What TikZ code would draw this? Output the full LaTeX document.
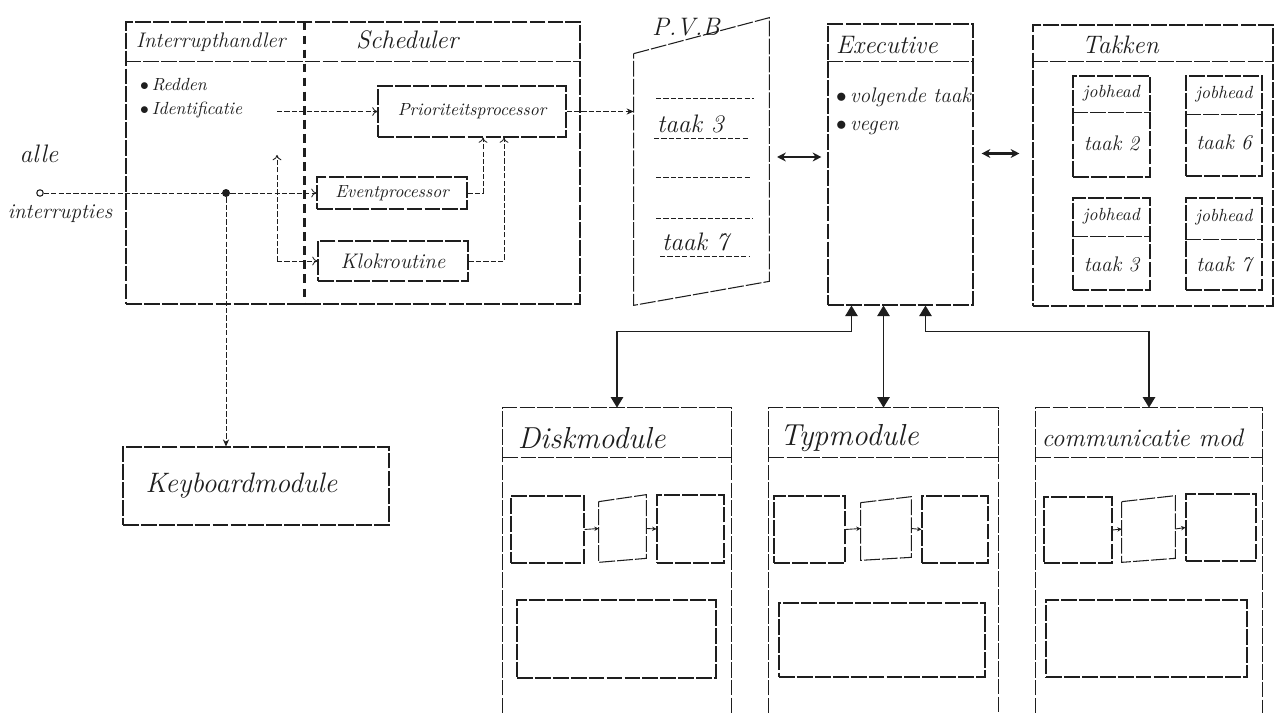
\documentclass[tikz,border=0pt]{standalone}
\usepackage{tikz}
\usetikzlibrary{arrows.meta,positioning,calc,fit}
\definecolor{cInk}{HTML}{1E1E1E}
\definecolor{cPaper}{HTML}{FFFFFF}
\tikzset{
  >=Stealth,
  box/.style  ={draw=cInk,line width=0.6pt,dash pattern=on 9pt off 1.2pt,inner sep=0pt},
  pane/.style ={inner sep=0pt},
  divl/.style ={draw=cInk,line width=1.3pt,dash pattern=on 5pt off 3pt},
  cn/.style   ={draw=cInk,line width=0.5pt,dash pattern=on 3pt off 1.2pt},
  ar/.style   ={cn,-{To[length=3pt,width=5pt]}},
  arf/.style  ={cn,-{Stealth[length=4pt,width=3.5pt]}},
  arb/.style  ={draw=cInk,line width=1.4pt,{Stealth[length=5pt,width=5pt]}-{Stealth[length=5pt,width=5pt]}},
  arg/.style  ={draw=cInk,line width=1pt,{Triangle[length=6pt,width=7pt]}-{Triangle[length=6pt,width=7pt]}},
  sa/.style   ={draw=cInk,line width=0.5pt,-{Stealth[length=2.5pt,width=2.5pt]}},
  dot/.style  ={circle,fill=cInk,inner sep=1.6pt},
  term/.style ={circle,draw=cInk,line width=0.6pt,inner sep=1.3pt},
  sm/.style   ={font=\normalsize\itshape,text=cInk,inner sep=1pt},
  md/.style   ={font=\large\itshape,text=cInk,inner sep=1pt},
  hd/.style   ={font=\large\itshape,text=cInk,inner sep=1pt},
  lg/.style   ={font=\Large\itshape,text=cInk,inner sep=1pt},
  xl/.style   ={font=\LARGE\itshape,text=cInk,inner sep=1pt},
}
\begin{document}
\begin{tikzpicture}[x=0.02cm,y=-0.02cm]
\useasboundingbox[fill=cPaper] (0,0) rectangle (1276,713);

% interrupthandler / scheduler
\node[box,fit={(126,22)(580,304)}] (ih) {};
\draw[box] ($(ih.north west)+(0,40)$) -- ($(ih.north east)+(0,40)$);
\draw[divl] ($(ih.north west)+(179,0)$) -- ($(ih.south west)+(179,0)$);
\node[hd,anchor=west] (ihT) at (134,42) {Interrupthandler};
\node[lg,anchor=west] (schT) at (354,40) {Scheduler};
\node[sm,anchor=west] (red) at (138,85) {$\bullet$\,Redden};
\node[sm,anchor=west] (idf) at (138,110) {$\bullet$\,Identificatie};
\node[box,fit={(378,86)(566,137)}] (prio) {};
\node[sm] (prioT) at (prio) {Prioriteitsprocessor};
\node[box,fit={(317,177)(467,209)}] (event) {};
\node[sm] (eventT) at (event) {Eventprocessor};
\node[box,fit={(318,241)(468,281)}] (klok) {};
\node[md] (klokT) at (klok) {Klokroutine};

% input
\node[term] (inp) at (40,193) {};
\node[lg] (alle) at (39,154) {alle};
\node[md] (intr) at (60,214) {interrupties};
\node[dot] (jd) at (226,193) {};
\coordinate (up) at (277,155);
\draw[cn] (inp) -- (jd);
\draw[ar] (jd) -- (event.west);
\draw[ar] (up |- klok.west) -- (up);
\draw[ar] (up |- klok.west) -- (klok.west);
\draw[ar] (up |- prio.west) -- (prio.west);
\draw[ar] (event.east) -| ($(prio.south)+(11,0)$);
\draw[ar] (klok.east) -| ($(prio.south)+(32,0)$);

% keyboard
\node[box,fit={(123,447)(389,525)}] (kbd) {};
\node[font=\fontsize{16}{19}\selectfont\itshape,text=cInk,anchor=west] (kbdT) at ($(kbd.west)+(17,0)$) {Keyboardmodule};
\draw[arf] (jd) -- (jd |- kbd.north);

% P.V.B
\node[pane,fit={(634,18)(769,305)}] (pvb) {};
\draw[box] ($(pvb.north west)+(0,36)$) -- (pvb.north east) -- ($(pvb.south east)+(0,-24)$) -- (pvb.south west) -- cycle;
\node[lg] (pvbT) at (686,27) {P.V.B};
\draw[cn] (656,98) -- (754,98) (654,138) -- (748,138) (656,177) -- (750,177)
          (656,218) -- (752,218) (660,256) -- (750,256);
\node[lg,anchor=base west] (pvb3) at (655,133) {taak 3};
\node[lg,anchor=base west] (pvb7) at (660,251) {taak 7};
\draw[arf] (prio.east) -- (prio.east -| pvb.west);
\coordinate (pvbR) at (769,157);

% executive
\node[box,fit={(828,24)(973,305)}] (exec) {};
\draw[box] ($(exec.north west)+(0,38)$) -- ($(exec.north east)+(0,38)$);
\node[lg,anchor=west] (execT) at (834,45) {Executive};
\node[md,anchor=west] (volg) at (834,97) {$\bullet$\,volgende taak};
\node[md,anchor=west] (veg) at (834,128) {$\bullet$\,vegen};
\draw[arb,shorten <=0.16cm,shorten >=0.12cm] (pvbR) -- (pvbR -| exec.west);

% taken
\node[box,fit={(1033,25)(1273,306)}] (tak) {};
\draw[box] ($(tak.north west)+(0,37)$) -- ($(tak.north east)+(0,37)$);
\node[lg,anchor=west] (takT) at (1080,45) {Takken};
\draw[arb,shorten <=0.16cm,shorten >=0.26cm] ($(exec.east)+(0,-11)$) -- ($(tak.west)+(0,-12)$);
\node[box,fit={(1073,76)(1150,177)}] (j2) {};
\draw[box] ($(j2.north west)+(0,37)$) -- ($(j2.north east)+(0,37)$);
\node[sm] (j2h) at ($(j2.north)+(0,18)$) {jobhead};
\node[md] (j2t) at ($(j2.north)+(0,68)$) {taak 2};
\node[box,fit={(1186,76)(1262,176)}] (j6) {};
\draw[box] ($(j6.north west)+(0,39)$) -- ($(j6.north east)+(0,39)$);
\node[sm] (j6h) at ($(j6.north)+(0,19)$) {jobhead};
\node[md] (j6t) at ($(j6.north)+(0,67)$) {taak 6};
\node[box,fit={(1073,198)(1150,290)}] (j3) {};
\draw[box] ($(j3.north west)+(0,39)$) -- ($(j3.north east)+(0,39)$);
\node[sm] (j3h) at ($(j3.north)+(0,19)$) {jobhead};
\node[md] (j3t) at ($(j3.north)+(0,67)$) {taak 3};
\node[box,fit={(1186,198)(1262,290)}] (j7) {};
\draw[box] ($(j7.north west)+(0,42)$) -- ($(j7.north east)+(0,42)$);
\node[sm] (j7h) at ($(j7.north)+(0,20)$) {jobhead};
\node[md] (j7t) at ($(j7.north)+(0,67)$) {taak 7};

% modules
\node[pane,fit={(503,408)(731,713)}] (disk) {};
\node[pane,fit={(769,408)(998,713)}] (typ) {};
\node[pane,fit={(1036,408)(1262,713)}] (comm) {};
\draw[box] (disk.south west) -- (disk.north west) -- (disk.north east) -- (disk.south east);
\draw[box] (typ.south west) -- (typ.north west) -- (typ.north east) -- (typ.south east);
\draw[box] (comm.south west) -- (comm.north west) -- (comm.north east) -- (comm.south east);
\draw[box] ($(disk.north west)+(0,50)$) -- ($(disk.north east)+(0,50)$);
\draw[box] ($(typ.north west)+(0,50)$) -- ($(typ.north east)+(0,50)$);
\draw[box] ($(comm.north west)+(0,50)$) -- ($(comm.north east)+(0,50)$);
\node[xl,anchor=west] (diskT) at ($(disk.north west)+(13,30)$) {Diskmodule};
\node[xl,anchor=west] (typT) at ($(typ.north west)+(9,30)$) {Typmodule};
\node[lg,anchor=west] (commT) at ($(comm.north west)+(4,30)$) {communicatie mod};

% executive <-> modules
\coordinate (ea) at ($(exec.south west)+(24,0)$);
\coordinate (ec) at ($(exec.south west)+(98,0)$);
\draw[arg] (ea) -- ++(0,26) -| (disk.north);
\draw[arg] (typ.north |- ea) -- (typ.north);
\draw[arg] (ec) -- ++(0,26) -| (comm.north);

% disk inside
\node[box,fit={(511,496)(584,563)}] (d1) {};
\node[pane,fit={(599,495)(646,562)}] (d2) {};
\draw[box] ($(d2.north west)+(0,7)$) -- (d2.north east) -- ($(d2.south east)+(0,-4)$) -- (d2.south west) -- cycle;
\node[box,fit={(657,495)(724,563)}] (d3) {};
\node[box,fit={(517,600)(716,678)}] (d4) {};
\draw[sa] (d1.east) -- (d2.west);
\draw[sa] (d2.east) -- (d3.west);

% typ inside
\node[box,fit={(774,496)(845,563)}] (ty1) {};
\node[pane,fit={(861,497)(911,560)}] (ty2) {};
\draw[box] ($(ty2.north west)+(0,6)$) -- (ty2.north east) -- ($(ty2.south east)+(0,-3)$) -- (ty2.south west) -- cycle;
\node[box,fit={(922,496)(988,563)}] (ty3) {};
\node[box,fit={(779,603)(985,677)}] (ty4) {};
\draw[sa] (ty1.east) -- (ty2.west);
\draw[sa] (ty2.east) -- (ty3.west);

% communicatie inside
\node[box,fit={(1044,497)(1112,563)}] (c1) {};
\node[pane,fit={(1122,496)(1175,562)}] (c2) {};
\draw[box] ($(c2.north west)+(0,6)$) -- (c2.north east) -- ($(c2.south east)+(0,-4)$) -- (c2.south west) -- cycle;
\node[box,fit={(1186,494)(1256,561)}] (c3) {};
\node[box,fit={(1046,600)(1247,677)}] (c4) {};
\draw[sa] (c1.east) -- (c2.west);
\draw[sa] (c2.east) -- (c3.west);
\end{tikzpicture}
\end{document}
